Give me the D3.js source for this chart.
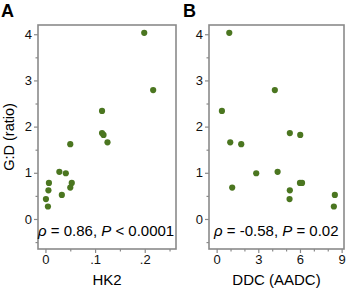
<!DOCTYPE html>
<html>
<head>
<meta charset="utf-8">
<script src="https://cdn.jsdelivr.net/npm/d3@7"></script>
<style>
  body { margin: 0; background: #fff; }
  text { font-family: "Liberation Sans", Arial, sans-serif; }
</style>
</head>
<body>
<div id="chart"></div>
<script>
// G:D ratio for each sample (shared by both panels)
var ratio = [4.03, 2.79, 2.34, 1.86, 1.82, 1.66, 1.62, 1.02, 0.99, 0.78, 0.78, 0.68, 0.62, 0.52, 0.43, 0.27];
// panel A : HK2
var hk2 = [0.199, 0.217, 0.114, 0.114, 0.117, 0.125, 0.050, 0.028, 0.041, 0.007, 0.053, 0.050, 0.006, 0.033, 0.001, 0.005];
// panel B : DDC (AADC)
var ddc = [0.91, 4.19, 0.38, 5.27, 6.02, 0.98, 1.77, 4.39, 2.85, 6.0, 6.15, 1.12, 5.27, 8.51, 5.25, 8.44];

var yTicks = [0, 1, 2, 3, 4];
var yMinor = [-0.5, 0.5, 1.5, 2.5, 3.5];
var hk2Ticks = [0, 0.1, 0.2], hk2Minor = [0.05, 0.15, 0.25];
var ddcTicks = [0, 3, 6, 9], ddcMinor = [1, 2, 4, 5, 7, 8];

var W = 350, H = 289;
var axisColor = "#8a8a8a", dotColor = "#4b7620";

var svg = d3.select("#chart").append("svg")
    .attr("width", W)
    .attr("height", H);

var yScale = d3.scaleLinear().domain([-0.65, 4.2]).range([249, 25]);

function drawPanel(opt) {
    var x = d3.scaleLinear().domain(opt.domain).range(opt.range);
    var g = svg.append("g");

    // y axis
    g.append("g")
        .attr("transform", "translate(" + opt.range[0] + ",0)")
        .call(d3.axisLeft(yScale).tickValues(yTicks).tickSize(4).tickSizeOuter(0).tickPadding(2).tickFormat(d3.format("d")));
    g.append("g")
        .attr("transform", "translate(" + opt.range[0] + ",0)")
        .call(d3.axisLeft(yScale).tickValues(yMinor).tickSize(2.5).tickSizeOuter(0).tickFormat(""));

    // x axis
    g.append("g")
        .attr("transform", "translate(0," + yScale.range()[0] + ")")
        .call(d3.axisBottom(x).tickValues(opt.ticks).tickSize(4).tickSizeOuter(0).tickPadding(2).tickFormat(opt.fmt));
    g.append("g")
        .attr("transform", "translate(0," + yScale.range()[0] + ")")
        .call(d3.axisBottom(x).tickValues(opt.minor).tickSize(2.5).tickSizeOuter(0).tickFormat(""));

    g.selectAll(".domain").remove();
    g.selectAll(".tick line").attr("stroke", axisColor).attr("stroke-width", 1.2);
    g.selectAll(".tick text").style("font-size", "13px").attr("fill", "#111");

    // frame
    g.append("rect")
        .attr("x", opt.range[0])
        .attr("y", yScale.range()[1])
        .attr("width", opt.range[1] - opt.range[0])
        .attr("height", yScale.range()[0] - yScale.range()[1])
        .attr("fill", "none")
        .attr("stroke", axisColor)
        .attr("stroke-width", 1.6);

    // dots
    g.selectAll("circle")
        .data(opt.xs)
        .enter()
        .append("circle")
        .attr("cx", d => x(d))
        .attr("cy", (d, i) => yScale(ratio[i]))
        .attr("r", 3.1)
        .attr("fill", dotColor);

    // x label
    g.append("text")
        .attr("x", (opt.range[0] + opt.range[1]) / 2)
        .attr("y", 285)
        .attr("text-anchor", "middle")
        .style("font-size", "15px")
        .text(opt.label);

    // correlation text
    var t = g.append("text")
        .attr("x", opt.range[0] + opt.textDx)
        .attr("y", 236)
        .style("font-size", "15px");
    t.append("tspan").style("font-style", "italic").text("\u03c1");
    t.append("tspan").text(" = " + opt.rho + ", ");
    t.append("tspan").style("font-style", "italic").text("P");
    t.append("tspan").text(" " + opt.p);

    // panel letter
    svg.append("text")
        .attr("x", opt.letterX)
        .attr("y", 17)
        .style("font-size", "18px")
        .style("font-weight", "bold")
        .text(opt.letter);
}

drawPanel({
    xs: hk2, domain: [-0.015, 0.263], range: [38, 176],
    ticks: hk2Ticks, minor: hk2Minor,
    fmt: d => d === 0 ? "0" : d3.format(".1f")(d).replace(/^0/, ""),
    label: "HK2", rho: "0.86", p: "< 0.0001", textDx: 0, letter: "A", letterX: 1
});

drawPanel({
    xs: ddc, domain: [-0.55, 9.17], range: [209, 344],
    ticks: ddcTicks, minor: ddcMinor,
    fmt: d3.format("d"),
    label: "DDC (AADC)", rho: "-0.58", p: "= 0.02", textDx: 5, letter: "B", letterX: 183
});

// y label
svg.append("text")
    .attr("transform", "translate(13.5,137) rotate(-90)")
    .attr("text-anchor", "middle")
    .style("font-size", "14.5px")
    .text("G:D (ratio)");
</script>
</body>
</html>
